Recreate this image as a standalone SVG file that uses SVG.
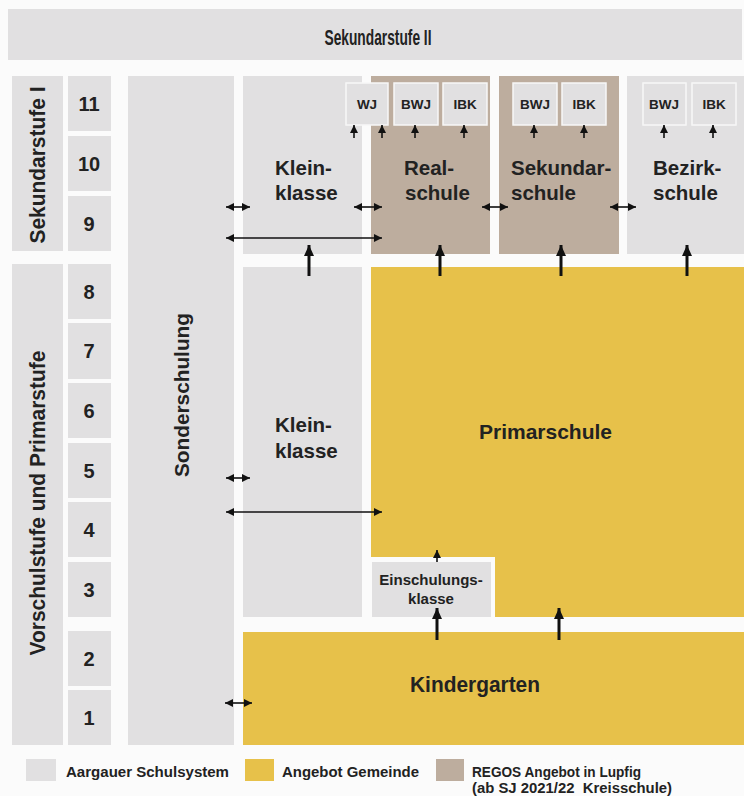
<svg xmlns="http://www.w3.org/2000/svg" width="744" height="796" viewBox="0 0 744 796">
<defs>
<style>
.g{fill:#e1e0e1}
.b{fill:#bdad9e}
.y{fill:#e7c14a}
.sb{fill:#e1e0e1;stroke:#f7f7f7;stroke-width:1.5}
text{font-family:"Liberation Sans",Arial,sans-serif;font-weight:bold;fill:#222}
.num{font-size:20px;text-anchor:middle}
.lab{font-size:20.5px}
.sm{font-size:13.5px;text-anchor:middle}
.leg{font-size:14.5px;fill:#222}
.thin{stroke:#111;stroke-width:1.6;fill:none;marker-end:url(#ah);marker-start:url(#ahs)}
.up{stroke:#111;stroke-width:1.6;fill:none;marker-end:url(#ah)}
.thick{stroke:#111;stroke-width:3;fill:none;marker-end:url(#ahb)}
</style>
<marker id="ah" markerUnits="userSpaceOnUse" markerWidth="9" markerHeight="8" refX="8" refY="4" orient="auto"><path d="M0,0 L8,4 L0,8 z" fill="#111"/></marker>
<marker id="ahs" markerUnits="userSpaceOnUse" markerWidth="9" markerHeight="8" refX="8" refY="4" orient="auto-start-reverse"><path d="M0,0 L8,4 L0,8 z" fill="#111"/></marker>
<marker id="ahb" markerUnits="userSpaceOnUse" markerWidth="12" markerHeight="10" refX="11" refY="5" orient="auto"><path d="M0,0 L11,5 L0,10 z" fill="#111"/></marker>
</defs>
<rect x="0" y="0" width="744" height="796" fill="#fbfbfb"/>

<g id="sek2"><rect class="g" x="8" y="9" width="734" height="51"/><text x="378" y="45" font-size="22" text-anchor="middle" textLength="107" lengthAdjust="spacingAndGlyphs">Sekundarstufe II</text></g>

<g id="sek1-label"><rect class="g" x="12" y="76" width="51" height="175"/><text transform="translate(45,165) rotate(-90)" text-anchor="middle" font-size="21.5" textLength="157" lengthAdjust="spacingAndGlyphs">Sekundarstufe I</text></g>
<g id="vp-label"><rect class="g" x="12" y="264" width="51" height="481"/><text transform="translate(45,503) rotate(-90)" text-anchor="middle" font-size="21.5" textLength="305" lengthAdjust="spacingAndGlyphs">Vorschulstufe und Primarstufe</text></g>

<g id="year11"><rect class="g" x="68" y="76" width="43" height="55"/><text class="num" x="89" y="111">11</text></g>
<g id="year10"><rect class="g" x="68" y="136" width="43" height="55"/><text class="num" x="89" y="171">10</text></g>
<g id="year9"><rect class="g" x="68" y="196" width="43" height="55"/><text class="num" x="89" y="231">9</text></g>
<g id="year8"><rect class="g" x="68" y="264" width="43" height="55"/><text class="num" x="89" y="299">8</text></g>
<g id="year7"><rect class="g" x="68" y="323" width="43" height="56"/><text class="num" x="89" y="358">7</text></g>
<g id="year6"><rect class="g" x="68" y="383" width="43" height="55"/><text class="num" x="89" y="418">6</text></g>
<g id="year5"><rect class="g" x="68" y="443" width="43" height="55"/><text class="num" x="89" y="478">5</text></g>
<g id="year4"><rect class="g" x="68" y="502" width="43" height="55"/><text class="num" x="89" y="537">4</text></g>
<g id="year3"><rect class="g" x="68" y="562" width="43" height="55"/><text class="num" x="89" y="597">3</text></g>
<g id="year2"><rect class="g" x="68" y="631" width="43" height="55"/><text class="num" x="89" y="666">2</text></g>
<g id="year1"><rect class="g" x="68" y="690" width="43" height="55"/><text class="num" x="89" y="725">1</text></g>

<g id="sonderschulung"><rect class="g" x="128" y="76" width="106" height="669"/><text transform="translate(189,395) rotate(-90)" text-anchor="middle" font-size="20" textLength="164" lengthAdjust="spacingAndGlyphs">Sonderschulung</text></g>

<g id="kleinklasse-sek"><rect class="g" x="243" y="76" width="119" height="178"/><text class="lab" x="275" y="175">Klein-</text><text class="lab" x="275" y="200">klasse</text></g>
<g id="realschule"><rect class="b" x="371" y="76" width="119" height="178"/><text class="lab" x="404" y="175">Real-</text><text class="lab" x="405" y="200">schule</text></g>
<g id="sekundarschule"><rect class="b" x="499" y="76" width="120" height="178"/><text class="lab" x="511" y="175">Sekundar-</text><text class="lab" x="511" y="200">schule</text></g>
<g id="bezirkschule"><rect class="g" x="627" y="76" width="117" height="178"/><text class="lab" x="653" y="175">Bezirk-</text><text class="lab" x="653" y="200">schule</text></g>

<g id="wj"><rect class="sb" x="346" y="83" width="42" height="42"/><text class="sm" x="367" y="109">WJ</text></g>
<g id="bwj-real"><rect class="sb" x="394" y="83" width="44" height="42"/><text class="sm" x="416" y="109">BWJ</text></g>
<g id="ibk-real"><rect class="sb" x="443" y="83" width="44" height="42"/><text class="sm" x="465" y="109">IBK</text></g>
<g id="bwj-sek"><rect class="sb" x="513" y="83" width="44" height="42"/><text class="sm" x="535" y="109">BWJ</text></g>
<g id="ibk-sek"><rect class="sb" x="562" y="83" width="44" height="42"/><text class="sm" x="584" y="109">IBK</text></g>
<g id="bwj-bez"><rect class="sb" x="643" y="83" width="43" height="42"/><text class="sm" x="664" y="109">BWJ</text></g>
<g id="ibk-bez"><rect class="sb" x="692" y="83" width="44" height="42"/><text class="sm" x="714" y="109">IBK</text></g>

<g id="kleinklasse-prim"><rect class="g" x="243" y="267" width="119" height="350"/><text class="lab" x="275" y="432">Klein-</text><text class="lab" x="275" y="458">klasse</text></g>
<g id="primarschule"><path class="y" d="M371,267 H744 V617 H495 V557 H371 Z"/><text x="545.5" y="439" font-size="21" text-anchor="middle">Primarschule</text></g>
<g id="einschulungsklasse"><rect class="g" x="372" y="562" width="119" height="55"/><text x="431" y="585" font-size="15" text-anchor="middle">Einschulungs-</text><text x="431" y="604" font-size="15" text-anchor="middle">klasse</text></g>
<g id="kindergarten"><rect class="y" x="243" y="632" width="501" height="113"/><text x="475" y="692" font-size="22" text-anchor="middle" textLength="130" lengthAdjust="spacingAndGlyphs">Kindergarten</text></g>

<g id="connectors">
<line class="thin" x1="226" y1="207" x2="250" y2="207"/>
<line class="thin" x1="354" y1="207" x2="382" y2="207"/>
<line class="thin" x1="226" y1="238" x2="382" y2="238"/>
<line class="thin" x1="482" y1="207" x2="508" y2="207"/>
<line class="thin" x1="610" y1="207" x2="636" y2="207"/>
<line class="thin" x1="226" y1="478" x2="250" y2="478"/>
<line class="thin" x1="226" y1="512" x2="382" y2="512"/>
<line class="thin" x1="225" y1="703" x2="252" y2="703"/>
<line class="up" x1="354" y1="138" x2="354" y2="125"/>
<line class="up" x1="382" y1="138" x2="382" y2="125"/>
<line class="up" x1="415" y1="138" x2="415" y2="125"/>
<line class="up" x1="464" y1="138" x2="464" y2="125"/>
<line class="up" x1="534" y1="138" x2="534" y2="125"/>
<line class="up" x1="584" y1="138" x2="584" y2="125"/>
<line class="up" x1="664" y1="138" x2="664" y2="125"/>
<line class="up" x1="713" y1="138" x2="713" y2="125"/>
<line class="up" x1="437" y1="562" x2="437" y2="550"/>
<line class="thick" x1="309" y1="276" x2="309" y2="245"/>
<line class="thick" x1="440" y1="276" x2="440" y2="245"/>
<line class="thick" x1="561" y1="276" x2="561" y2="245"/>
<line class="thick" x1="687" y1="276" x2="687" y2="245"/>
<line class="thick" x1="437" y1="640" x2="437" y2="608"/>
<line class="thick" x1="559" y1="640" x2="559" y2="608"/>
</g>

<g id="legend">
<rect class="g" x="26" y="759" width="30" height="22"/>
<text class="leg" x="66" y="777" textLength="163" lengthAdjust="spacingAndGlyphs">Aargauer Schulsystem</text>
<rect class="y" x="245" y="759" width="29" height="22"/>
<text class="leg" x="282" y="777" textLength="137" lengthAdjust="spacingAndGlyphs">Angebot Gemeinde</text>
<rect class="b" x="436" y="759" width="28" height="22"/>
<text class="leg" x="472" y="777" textLength="169" lengthAdjust="spacingAndGlyphs">REGOS Angebot in Lupfig</text>
<text class="leg" x="472" y="793" textLength="200" lengthAdjust="spacingAndGlyphs" xml:space="preserve">(ab SJ 2021/22  Kreisschule)</text>
</g>
</svg>
